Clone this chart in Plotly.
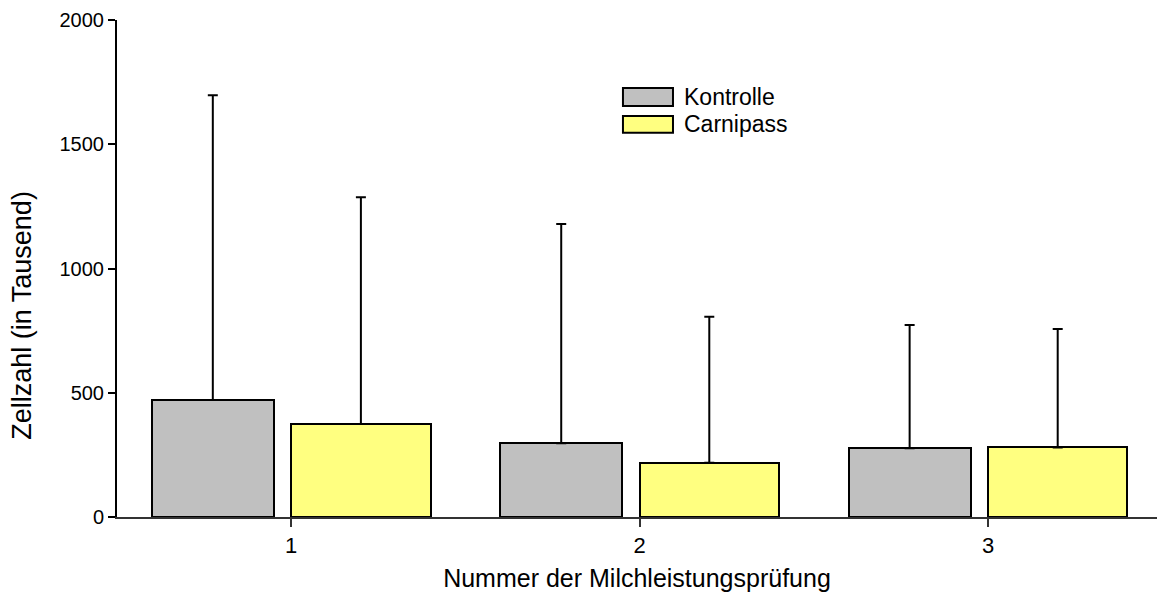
import plotly.graph_objects as go

# Milk recording test number (Milchleistungsprüfung)
pruefung = [1, 2, 3]

# Somatic cell count (thousands): group means and standard deviations
kontrolle_mittel = [471, 297, 277]
kontrolle_sd = [1226, 882, 496]
carnipass_mittel = [374, 218, 280]
carnipass_sd = [913, 588, 477]

tick_labels = ["1", "2", "3"]
y_ticks = [0, 500, 1000, 1500, 2000]

FONT = "Liberation Sans, Arial, sans-serif"
GRAU = "#C0C0C0"
GELB = "#FFFF80"

fig = go.Figure()

fig.add_trace(go.Bar(
    name="Kontrolle",
    x=pruefung,
    y=kontrolle_mittel,
    offset=-0.4,
    width=0.35,
    marker=dict(color=GRAU, line=dict(color="black", width=2)),
    error_y=dict(type="data", symmetric=False, array=kontrolle_sd,
                 arrayminus=[0] * len(kontrolle_sd),
                 color="black", thickness=2, width=5),
    showlegend=False,
))

fig.add_trace(go.Bar(
    name="Carnipass",
    x=pruefung,
    y=carnipass_mittel,
    offset=0,
    width=0.4,
    marker=dict(color=GELB, line=dict(color="black", width=2)),
    error_y=dict(type="data", symmetric=False, array=carnipass_sd,
                 arrayminus=[0] * len(carnipass_sd),
                 color="black", thickness=2, width=5),
    showlegend=False,
))

# Legend drawn as large swatches with labels
legend_items = [("Kontrolle", GRAU, 0.863, 0.827), ("Carnipass", GELB, 0.807, 0.773)]
for label, color, y1, y0 in legend_items:
    fig.add_shape(type="rect", xref="paper", yref="paper",
                  x0=0.4865, x1=0.5346, y0=y0, y1=y1,
                  fillcolor=color, line=dict(color="black", width=2))
    fig.add_annotation(xref="paper", yref="paper", x=0.543, y=(y0 + y1) / 2,
                       text=label, showarrow=False, xanchor="left", yanchor="middle",
                       font=dict(family=FONT, size=23, color="black"))

# Y-axis title placed slightly below the plot centre
fig.add_annotation(xref="paper", yref="paper", x=-0.0913, y=0.405,
                   text="Zellzahl (in Tausend)", textangle=-90, showarrow=False,
                   xanchor="center", yanchor="middle",
                   font=dict(family=FONT, size=27, color="black"))

fig.update_layout(
    width=1158,
    height=601,
    margin=dict(l=117, r=1, t=20, b=84),
    paper_bgcolor="white",
    plot_bgcolor="white",
    bargap=0,
    font=dict(family=FONT, size=21, color="black"),
    xaxis=dict(
        range=[0.5, 3.485],
        tickvals=pruefung,
        ticktext=tick_labels,
        ticks="outside",
        ticklen=8,
        tickwidth=1.5,
        tickcolor="#333333",
        showline=True,
        linecolor="#333333",
        linewidth=1.5,
        showgrid=False,
        zeroline=False,
        tickfont=dict(size=22),
        title=dict(text="Nummer der Milchleistungsprüfung", standoff=12,
                   font=dict(size=25)),
    ),
    yaxis=dict(
        range=[0, 2000],
        tickvals=y_ticks,
        ticks="outside",
        ticklen=7,
        tickwidth=1.5,
        tickcolor="black",
        showline=True,
        linecolor="black",
        linewidth=2,
        showgrid=False,
        zeroline=False,
        tickfont=dict(size=20),
    ),
)

fig.write_html("out.html")
